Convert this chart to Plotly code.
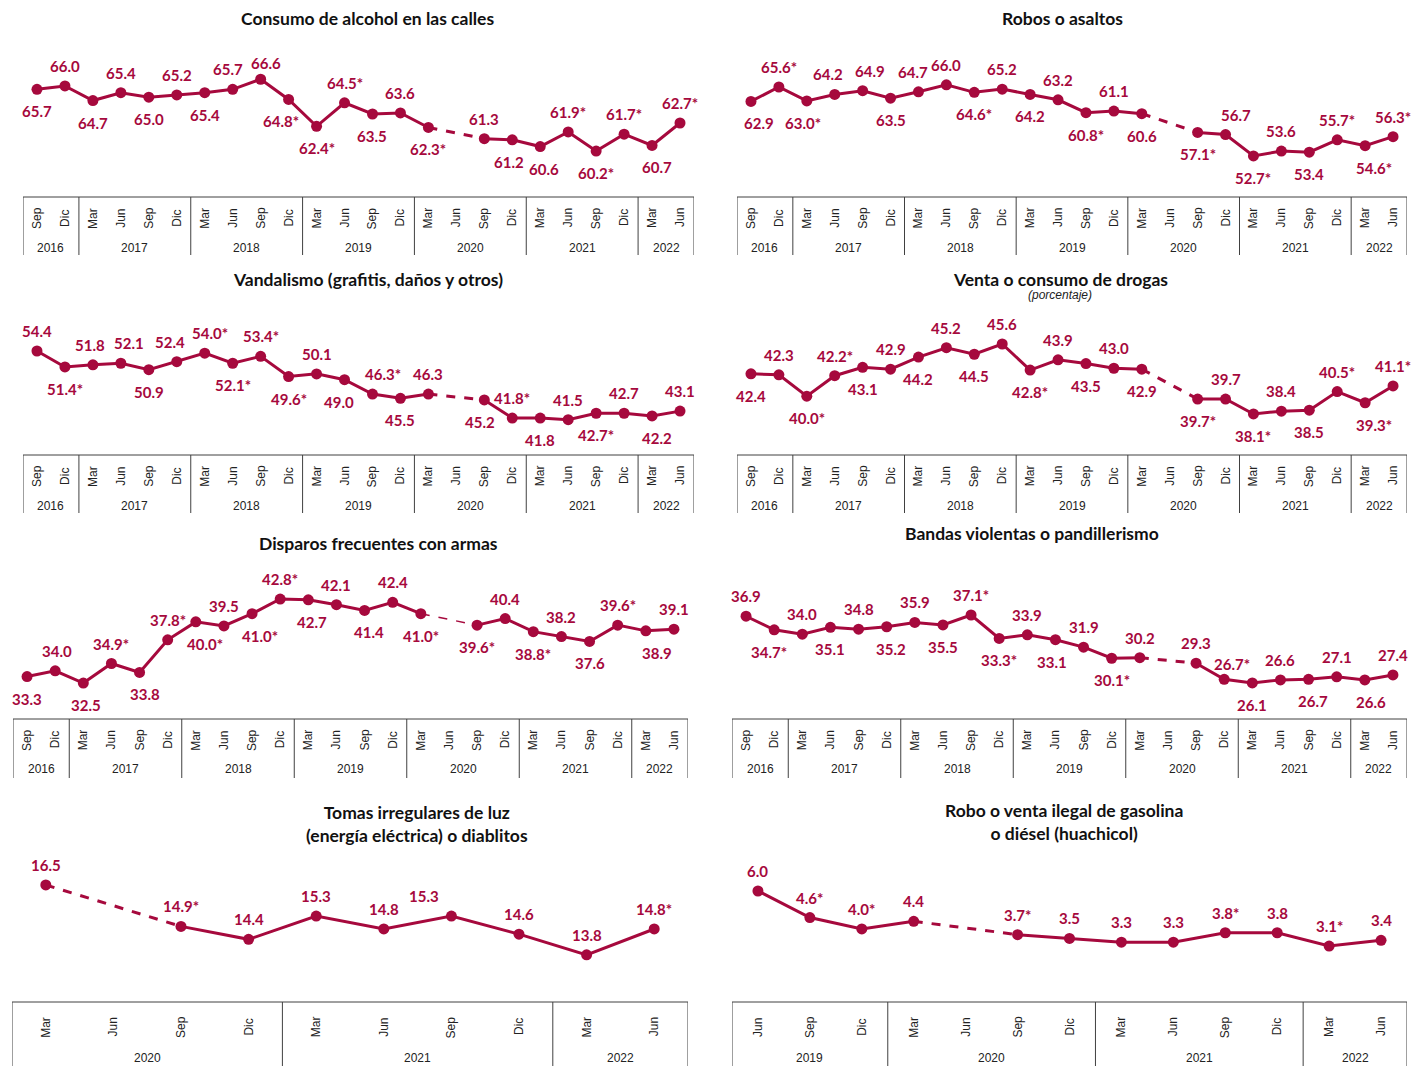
import plotly.graph_objects as go

# The page body has an 8px default margin: figure is sized so that it fills the window.
OX, OY = 8, 8
W, H = 1419 - OX, 1066 - OY
RED = "#A6093D"
LINE_GREY = "#404040"
LABEL_FONT = "Lato"
AXIS_FONT = "Liberation Sans, Arial"

# ---------------- categories ----------------
MONTHS_A = ["Sep", "Dic", "Mar", "Jun", "Sep", "Dic", "Mar", "Jun", "Sep", "Dic", "Mar", "Jun",
            "Sep", "Dic", "Mar", "Jun", "Sep", "Dic", "Mar", "Jun", "Sep", "Dic", "Mar", "Jun"]
YEARS_A = ["2016", "2016", "2017", "2017", "2017", "2017", "2018", "2018", "2018", "2018",
           "2019", "2019", "2019", "2019", "2020", "2020", "2020", "2020", "2021", "2021",
           "2021", "2021", "2022", "2022"]
MONTHS_B = ["Mar", "Jun", "Sep", "Dic", "Mar", "Jun", "Sep", "Dic", "Mar", "Jun"]
YEARS_B = ["2020", "2020", "2020", "2020", "2021", "2021", "2021", "2021", "2022", "2022"]
MONTHS_C = ["Jun", "Sep", "Dic", "Mar", "Jun", "Sep", "Dic", "Mar", "Jun", "Sep", "Dic", "Mar", "Jun"]
YEARS_C = ["2019", "2019", "2019", "2020", "2020", "2020", "2020", "2021", "2021", "2021",
           "2021", "2022", "2022"]

# ---------------- series values ----------------
alcohol = [65.7, 66.0, 64.7, 65.4, 65.0, 65.2, 65.4, 65.7, 66.6, 64.8, 62.4, 64.5,
           63.5, 63.6, 62.3, None, 61.3, 61.2, 60.6, 61.9, 60.2, 61.7, 60.7, 62.7]
alcohol_star = [0, 0, 0, 0, 0, 0, 0, 0, 0, 1, 1, 1, 0, 0, 1, 0, 0, 0, 0, 1, 1, 1, 0, 1]
alcohol_pos = ["b", "a", "b", "a", "b", "a", "b", "a", "a", "b", "b", "a",
               "b", "a", "b", "", "a", "b", "b", "a", "b", "a", "b", "a"]

robos = [62.9, 65.6, 63.0, 64.2, 64.9, 63.5, 64.7, 66.0, 64.6, 65.2, 64.2, 63.2,
         60.8, 61.1, 60.6, None, 57.1, 56.7, 52.7, 53.6, 53.4, 55.7, 54.6, 56.3]
robos_star = [0, 1, 1, 0, 0, 0, 0, 0, 1, 0, 0, 0, 1, 0, 0, 0, 1, 0, 1, 0, 0, 1, 1, 1]
robos_pos = ["b", "a", "b", "a", "a", "b", "a", "a", "b", "a", "b", "a",
             "b", "a", "b", "", "b", "a", "b", "a", "b", "a", "b", "a"]

vandalismo = [54.4, 51.4, 51.8, 52.1, 50.9, 52.4, 54.0, 52.1, 53.4, 49.6, 50.1, 49.0,
              46.3, 45.5, 46.3, None, 45.2, 41.8, 41.8, 41.5, 42.7, 42.7, 42.2, 43.1]
vandalismo_star = [0, 1, 0, 0, 0, 0, 1, 1, 1, 1, 0, 0, 1, 0, 0, 0, 0, 1, 0, 0, 1, 0, 0, 0]
vandalismo_pos = ["a", "b", "a", "a", "b", "a", "a", "b", "a", "b", "a", "b",
                  "a", "b", "a", "", "b", "a", "b", "a", "b", "a", "b", "a"]

drogas = [42.4, 42.3, 40.0, 42.2, 43.1, 42.9, 44.2, 45.2, 44.5, 45.6, 42.8, 43.9,
          43.5, 43.0, 42.9, None, 39.7, 39.7, 38.1, 38.4, 38.5, 40.5, 39.3, 41.1]
drogas_star = [0, 0, 1, 1, 0, 0, 0, 0, 0, 0, 1, 0, 0, 0, 0, 0, 1, 0, 1, 0, 0, 1, 1, 1]
drogas_pos = ["b", "a", "b", "a", "b", "a", "b", "a", "b", "a", "b", "a",
              "b", "a", "b", "", "b", "a", "b", "a", "b", "a", "b", "a"]

disparos = [33.3, 34.0, 32.5, 34.9, 33.8, 37.8, 40.0, 39.5, 41.0, 42.8, 42.7, 42.1,
            41.4, 42.4, 41.0, None, 39.6, 40.4, 38.8, 38.2, 37.6, 39.6, 38.9, 39.1]
disparos_star = [0, 0, 0, 1, 0, 1, 1, 0, 1, 1, 0, 0, 0, 0, 1, 0, 1, 0, 1, 0, 0, 1, 0, 0]
disparos_pos = ["b", "a", "b", "a", "b", "a", "b", "a", "b", "a", "b", "a",
                "b", "a", "b", "", "b", "a", "b", "a", "b", "a", "b", "a"]

bandas = [36.9, 34.7, 34.0, 35.1, 34.8, 35.2, 35.9, 35.5, 37.1, 33.3, 33.9, 33.1,
          31.9, 30.1, 30.2, None, 29.3, 26.7, 26.1, 26.6, 26.7, 27.1, 26.6, 27.4]
bandas_star = [0, 1, 0, 0, 0, 0, 0, 0, 1, 1, 0, 0, 0, 1, 0, 0, 0, 1, 0, 0, 0, 0, 0, 0]
bandas_pos = ["a", "b", "a", "b", "a", "b", "a", "b", "a", "b", "a", "b",
              "a", "b", "a", "", "a", "a", "b", "a", "b", "a", "b", "a"]

tomas = [16.5, None, 14.9, 14.4, 15.3, 14.8, 15.3, 14.6, 13.8, 14.8]
tomas_star = [0, 0, 1, 0, 0, 0, 0, 0, 0, 1]
tomas_pos = ["a", "", "a", "a", "a", "a", "a", "a", "a", "a"]

gasolina = [6.0, 4.6, 4.0, 4.4, None, 3.7, 3.5, 3.3, 3.3, 3.8, 3.8, 3.1, 3.4]
gasolina_star = [0, 1, 1, 0, 0, 1, 0, 0, 0, 1, 0, 1, 0]
gasolina_pos = ["a", "a", "a", "a", "", "a", "a", "a", "a", "a", "a", "a", "a"]

# ---------------- panel layout (reference pixels) ----------------
panels = [
    dict(title="Consumo de alcohol en las calles", title_xy=(367, 19),
         vals=alcohol, star=alcohol_star, pos=alcohol_pos, months=MONTHS_A, years=YEARS_A,
         box=(23, 694, 40, 197, 255), yr=(56.1, 70.1), off=(21, 51), dashw=3,
         dx={7: -5, 8: 5, 9: -8, 17: -3, 18: 4, 22: 5}, dy={8: -4}),
    dict(title="Robos o asaltos", title_xy=(1062, 19),
         vals=robos, star=robos_star, pos=robos_pos, months=MONTHS_A, years=YEARS_A,
         box=(737, 1407, 40, 197, 255), yr=(45.0, 74.4), off=(21, 51), dashw=3,
         dx={0: 8, 2: -4, 3: -7, 4: 7, 6: -5, 17: 10, 22: 9}),
    dict(title="Vandalismo (grafitis, daños y otros)", title_xy=(368, 279),
         vals=vandalismo, star=vandalismo_star, pos=vandalismo_pos, months=MONTHS_A, years=YEARS_A,
         box=(23, 694, 305, 455, 513), yr=(34.85, 63.05), off=(21, 51), dashw=3,
         dx={2: -3, 3: 8, 5: -7, 6: 5, 11: -6, 12: 11, 16: -4, 22: 5}),
    dict(title="Venta o consumo de drogas", title_xy=(1060, 279),
         vals=drogas, star=drogas_star, pos=drogas_pos, months=MONTHS_A, years=YEARS_A,
         box=(737, 1407, 305, 455, 513), yr=(33.7, 49.78), off=(21, 51), dashw=3,
         dx={22: 9}),
    dict(title="Disparos frecuentes con armas", title_xy=(378, 543),
         vals=disparos, star=disparos_star, pos=disparos_pos, months=MONTHS_A, years=YEARS_A,
         box=(13, 688, 560, 719, 778), yr=(28.1, 47.58), off=(21, 50), dashw=1.5,
         dx={1: 2, 2: 3, 4: 5, 6: 9, 8: 8, 10: 4, 12: 4, 22: 11}),
    dict(title="Bandas violentas o pandillerismo", title_xy=(1032, 533),
         vals=bandas, star=bandas_star, pos=bandas_pos, months=MONTHS_A, years=YEARS_A,
         box=(732, 1407, 560, 719, 778), yr=(20.27, 46.0), off=(21, 50), dashw=3,
         dx={1: -5, 5: 4, 11: -3, 17: 8, 20: 4, 22: 6}, dy={17: -5}),
    dict(title="Tomas irregulares de luz<br>(energía eléctrica) o diablitos", title_xy=(417, 824),
         vals=tomas, star=tomas_star, pos=tomas_pos, months=MONTHS_B, years=YEARS_B,
         box=(12, 688, 850, 1002, 1070), yr=(11.98, 17.85), off=(25, 56), dashw=3,
         dx={6: -27}),
    dict(title="Robo o venta ilegal de gasolina<br>o diésel (huachicol)", title_xy=(1064, 822),
         vals=gasolina, star=gasolina_star, pos=gasolina_pos, months=MONTHS_C, years=YEARS_C,
         box=(732, 1407, 850, 1002, 1070), yr=(0.15, 8.16), off=(25, 56), dashw=3),
]

fig = go.Figure()
shapes = []
annotations = []


def px(p):
    return (p - OX) / W


def py(p):
    return 1 - (p - OY) / H


for k, p in enumerate(panels):
    n = k + 1
    xa = "x" if n == 1 else f"x{n}"
    ya = "y" if n == 1 else f"y{n}"
    left, right, top, ttop, tbot = p["box"]
    vals = p["vals"]
    N = len(vals)
    xs = list(range(N))

    # dashed connectors across missing quarters
    i = 0
    while i < N:
        if vals[i] is None:
            j = i - 1
            kk = i
            while kk < N and vals[kk] is None:
                kk += 1
            if j >= 0 and kk < N:
                fig.add_trace(go.Scatter(
                    x=[j, kk], y=[vals[j], vals[kk]], mode="lines",
                    line=dict(color=RED, width=p["dashw"], dash="dash"),
                    xaxis=xa, yaxis=ya, hoverinfo="skip", showlegend=False))
            i = kk
        else:
            i += 1

    fig.add_trace(go.Scatter(
        x=xs, y=vals, mode="lines+markers", connectgaps=False,
        line=dict(color=RED, width=3), marker=dict(color=RED, size=11),
        xaxis=xa, yaxis=ya, hoverinfo="skip", showlegend=False))

    fig.layout[("xaxis" if n == 1 else f"xaxis{n}")] = dict(
        domain=[px(left), px(right)], range=[-0.5, N - 0.5], visible=False, fixedrange=True)
    fig.layout[("yaxis" if n == 1 else f"yaxis{n}")] = dict(
        domain=[py(ttop), py(top)], range=list(p["yr"]), visible=False, fixedrange=True)

    # data labels
    dx = p.get("dx", {})
    dy = p.get("dy", {})
    for idx, v in enumerate(vals):
        if v is None:
            continue
        txt = f"{v:.1f}" + ("*" if p["star"][idx] else "")
        above = p["pos"][idx] == "a"
        annotations.append(dict(
            x=idx, y=v, xref=xa, yref=ya, text=f"<b>{txt}</b>", showarrow=False,
            xanchor="center", yanchor="middle",
            yshift=(20 if above else -22) + dy.get(idx, 0), xshift=dx.get(idx, 0),
            font=dict(family=LABEL_FONT, size=15, color=RED)))

    # title
    tx, ty = p["title_xy"]
    annotations.append(dict(
        x=px(tx), y=py(ty), xref="paper", yref="paper", text=f"<b>{p['title']}</b>",
        showarrow=False, xanchor="center", yanchor="middle",
        font=dict(family=LABEL_FONT, size=17.5, color="#111111")))

    # category table
    shapes.append(dict(type="line", xref="paper", yref="paper",
                       x0=px(left), x1=px(right), y0=py(ttop), y1=py(ttop),
                       line=dict(color=LINE_GREY, width=1)))
    years = p["years"]
    bounds = [0] + [i for i in range(1, N) if years[i] != years[i - 1]] + [N]
    for b in bounds:
        shapes.append(dict(type="line", xref=xa, yref="paper",
                           x0=b - 0.5, x1=b - 0.5, y0=py(ttop), y1=py(tbot),
                           line=dict(color=LINE_GREY, width=1)))
    moff, yoff = p["off"]
    for idx, m in enumerate(p["months"]):
        annotations.append(dict(
            x=idx, y=py(ttop + moff), xref=xa, yref="paper", text=m, showarrow=False,
            textangle=-90, xanchor="center", yanchor="middle",
            font=dict(family=AXIS_FONT, size=12, color="#222222")))
    for a, b in zip(bounds[:-1], bounds[1:]):
        annotations.append(dict(
            x=(a + b - 1) / 2, y=py(ttop + yoff), xref=xa, yref="paper", text=years[a],
            showarrow=False, xanchor="center", yanchor="middle",
            font=dict(family=AXIS_FONT, size=12, color="#222222")))

# subtitle under drogas title
annotations.append(dict(
    x=px(1060), y=py(295), xref="paper", yref="paper", text="<i>(porcentaje)</i>",
    showarrow=False, xanchor="center", yanchor="middle",
    font=dict(family=AXIS_FONT, size=12, color="#222222")))

fig.update_layout(
    width=W, height=H, margin=dict(l=0, r=0, t=0, b=0),
    paper_bgcolor="white", plot_bgcolor="rgba(0,0,0,0)",
    shapes=shapes, annotations=annotations, showlegend=False)

fig.write_html("out.html", config={"displayModeBar": False})
